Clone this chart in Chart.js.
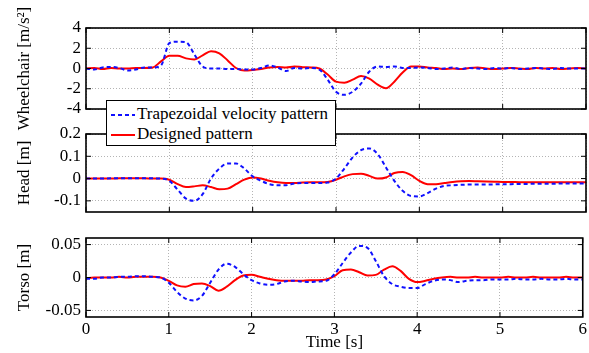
<!DOCTYPE html>
<html>
<head>
<meta charset="utf-8">
<script src="https://cdn.jsdelivr.net/npm/chart.js@4/dist/chart.umd.min.js"></script>
<style>
  body { margin: 0; background: #fff; }
  #wrap { position: relative; width: 589px; height: 353px; }
  #wrap canvas { position: absolute; left: 0; top: 0; }
  #legend {
    position: absolute; left: 106px; top: 100px; width: 228px; height: 44px;
    border: 1.5px solid #000; background: #fff; z-index: 5;
    font: 17px "Liberation Serif", serif; color: #000;
  }
  #legend .row { position: absolute; left: 4px; height: 20px; line-height: 20px; white-space: nowrap; }
  #legend svg { vertical-align: middle; margin-right: 2px; }
</style>
</head>
<body>
<div id="wrap">
  <canvas id="wheel" width="589" height="353"></canvas>
  <canvas id="head" width="589" height="353"></canvas>
  <canvas id="torso" width="589" height="353"></canvas>
  <div id="legend">
    <div class="row" style="top:3px"><svg width="24" height="4"><line x1="0" y1="2" x2="24" y2="2" stroke="#1010ff" stroke-width="2" stroke-dasharray="4 3"/></svg>Trapezoidal velocity pattern</div>
    <div class="row" style="top:23px"><svg width="24" height="4"><line x1="0" y1="2" x2="24" y2="2" stroke="#ff0000" stroke-width="2"/></svg>Designed pattern</div>
  </div>
</div>
<script>
// time axis [s]
const time = [0, 0.1, 0.2, 0.3, 0.4, 0.5, 0.6, 0.7, 0.8, 0.9,
  1.0, 1.1, 1.2, 1.3, 1.4, 1.5, 1.6, 1.7, 1.8, 1.9,
  2.0, 2.1, 2.2, 2.3, 2.4, 2.5, 2.6, 2.7, 2.8, 2.9,
  3.0, 3.1, 3.2, 3.3, 3.4, 3.5, 3.6, 3.7, 3.8, 3.9,
  4.0, 4.1, 4.2, 4.3, 4.4, 4.5, 4.6, 4.7, 4.8, 4.9,
  5.0, 5.1, 5.2, 5.3, 5.4, 5.5, 5.6, 5.7, 5.8, 5.9, 6.0];

// wheelchair acceleration [m/s^2]
const wheelTrap = [0, -0.1, 0.1, 0.15, 0.05, -0.2, -0.1, 0.1, 0.1, 0.3,
  2.5, 2.65, 2.6, 1.4, 0.2, 0, 0, -0.05, -0.05, -0.1,
  -0.1, 0.05, 0.3, 0.1, -0.25, 0.05, 0, 0.05, -0.1, -1.1,
  -2.3, -2.6, -2.3, -1.5, -0.3, 0.2, 0.15, 0.2, 0.05, 0.05,
  0.1, 0.05, -0.05, 0, 0.1, -0.05, 0.05, 0, -0.05, 0.05,
  0, 0.05, -0.05, 0, 0.05, 0, -0.05, 0.05, 0, 0, 0];
const wheelDesign = [0, 0.05, -0.05, 0.05, 0, 0, 0.05, 0.05, 0.1, 0.7,
  1.25, 1.25, 1.0, 0.9, 1.3, 1.7, 1.5, 0.8, 0.05, -0.2,
  -0.15, -0.05, 0.1, 0.15, 0.1, 0.2, 0.13, 0.1, 0, -0.6,
  -1.3, -1.4, -1.1, -0.75, -1.0, -1.6, -1.95, -1.3, -0.4, 0.2,
  0.2, 0.1, 0.05, -0.05, 0, -0.05, 0.05, 0.1, 0, -0.05,
  0, 0.05, 0, -0.05, 0.05, 0, 0.05, -0.05, 0, 0.05, 0];

// head displacement [m]
const headTrap = [0, 0, 0, 0.001, 0.001, 0.002, 0.002, 0.002, 0.001, 0,
  -0.01, -0.05, -0.09, -0.1, -0.07, 0, 0.045, 0.068, 0.068, 0.045,
  0.01, -0.01, -0.025, -0.03, -0.03, -0.022, -0.02, -0.02, -0.02, -0.018,
  0, 0.045, 0.095, 0.128, 0.135, 0.11, 0.05, -0.01, -0.055, -0.078,
  -0.08, -0.065, -0.045, -0.033, -0.03, -0.028, -0.027, -0.027, -0.027, -0.026,
  -0.025, -0.025, -0.024, -0.024, -0.023, -0.023, -0.023, -0.022, -0.022, -0.022, -0.022];
const headDesign = [0, 0, 0, 0, 0.001, 0.001, 0.001, 0.001, 0, 0,
  -0.005, -0.025, -0.038, -0.035, -0.03, -0.038, -0.048, -0.045, -0.025, -0.005,
  0.005, 0, -0.01, -0.017, -0.02, -0.02, -0.018, -0.017, -0.017, -0.015,
  -0.005, 0.01, 0.02, 0.022, 0.012, 0, 0.005, 0.025, 0.03, 0.015,
  -0.01, -0.025, -0.025, -0.02, -0.015, -0.012, -0.011, -0.012, -0.013, -0.014,
  -0.015, -0.015, -0.016, -0.016, -0.016, -0.017, -0.017, -0.017, -0.017, -0.017, -0.017];

// torso displacement [m]
const torsoTrap = [-0.002, -0.002, 0, 0, 0.001, 0.001, 0.002, 0.002, 0.001, 0,
  -0.008, -0.022, -0.032, -0.035, -0.028, -0.008, 0.012, 0.021, 0.016, 0.005,
  -0.004, -0.009, -0.011, -0.01, -0.006, -0.005, -0.006, -0.007, -0.006, -0.005,
  0.005, 0.022, 0.038, 0.048, 0.045, 0.025, 0.002, -0.01, -0.014, -0.016,
  -0.016, -0.01, -0.005, -0.003, -0.004, -0.007, -0.005, -0.004, -0.004, -0.003,
  -0.003, -0.003, -0.002, -0.003, -0.003, -0.002, -0.003, -0.003, -0.002, -0.003, -0.003];
const torsoDesign = [-0.001, 0, 0, 0, 0.001, 0, 0.001, 0.001, 0.001, 0,
  -0.005, -0.012, -0.014, -0.01, -0.009, -0.013, -0.02, -0.014, -0.004, 0.003,
  0.004, 0.001, -0.002, -0.004, -0.005, -0.005, -0.005, -0.004, -0.004, -0.003,
  0.002, 0.011, 0.012, 0.008, 0.003, 0.004, 0.012, 0.017, 0.01, -0.002,
  -0.007, -0.005, -0.002, 0, 0.001, 0, 0, 0.001, 0, 0,
  0, 0.001, 0, 0, 0.001, 0, 0, 0, 0.001, 0, 0];

// tick labels
const timeTicks = [0, 1, 2, 3, 4, 5, 6];
const wheelTicks = [-4, -2, 0, 2, 4];
const headTicks = [-0.1, 0, 0.1, 0.2];
const torsoTicks = [-0.05, 0, 0.05];

const FONT = { family: "'Liberation Serif', serif", size: 17 };
Chart.defaults.font = FONT;
Chart.defaults.color = "#000";

// black box with inward tick marks, like matlab
const frame = {
  id: "frame",
  afterDatasetsDraw(chart) {
    const { ctx, chartArea: a, scales } = chart;
    ctx.save();
    ctx.strokeStyle = "#000";
    ctx.lineWidth = 1;
    ctx.beginPath();
    scales.x.ticks.forEach(t => {
      const px = scales.x.getPixelForValue(t.value);
      ctx.moveTo(px, a.bottom); ctx.lineTo(px, a.bottom - 5);
      ctx.moveTo(px, a.top); ctx.lineTo(px, a.top + 5);
    });
    scales.y.ticks.forEach(t => {
      const py = scales.y.getPixelForValue(t.value);
      ctx.moveTo(a.left, py); ctx.lineTo(a.left + 5, py);
      ctx.moveTo(a.right, py); ctx.lineTo(a.right - 5, py);
    });
    ctx.stroke();
    ctx.lineWidth = 1.6;
    ctx.strokeRect(a.left, a.top, a.right - a.left, a.bottom - a.top);
    ctx.restore();
  }
};

const toXY = arr => arr.map((v, i) => ({ x: time[i], y: v }));

function panel(id, trap, design, yTicks, yMin, yMax, yTitle, top, bottom, showX) {
  new Chart(document.getElementById(id), {
    type: "line",
    data: {
      datasets: [
        { data: toXY(trap), borderColor: "#1010ff", borderWidth: 2, borderDash: [4, 3], pointRadius: 0, cubicInterpolationMode: "monotone" },
        { data: toXY(design), borderColor: "#ff0000", borderWidth: 2, pointRadius: 0, cubicInterpolationMode: "monotone" },
      ],
    },
    options: {
      responsive: false,
      animation: false,
      layout: { padding: { top: top, left: 0, right: 3, bottom: 0 } },
      plugins: { legend: { display: false }, tooltip: { enabled: false } },
      scales: {
        x: {
          type: "linear", min: 0, max: 6,
          afterBuildTicks: s => { s.ticks = timeTicks.map(v => ({ value: v })); },
          afterFit: s => { s.height = 353 - bottom; },
          grid: { color: "#b4b4b4", drawTicks: false },
          border: { display: false, dash: [1, 2] },
          ticks: { display: showX, autoSkip: false, maxRotation: 0, padding: 2, callback: v => String(v) },
          title: { display: showX, text: "Time [s]", padding: { top: 0, bottom: 0 } },
        },
        y: {
          min: yMin, max: yMax,
          afterBuildTicks: s => { s.ticks = yTicks.map(v => ({ value: v })); },
          afterFit: s => { s.width = 86; },
          grid: { color: "#b4b4b4", drawTicks: false },
          border: { display: false, dash: [1, 2] },
          ticks: { autoSkip: false, padding: 5, callback: v => String(v) },
          title: { display: true, text: yTitle, padding: { top: 14, bottom: 0 } },
        },
      },
    },
    plugins: [frame],
  });
}

panel("wheel", wheelTrap, wheelDesign, wheelTicks, -4, 4, "Wheelchair [m/s²]", 28, 109, false);
panel("head", headTrap, headDesign, headTicks, -0.15, 0.2, "Head [m]", 134, 212, false);
panel("torso", torsoTrap, torsoDesign, torsoTicks, -0.06, 0.06, "Torso [m]", 238, 317, true);
</script>
</body>
</html>
